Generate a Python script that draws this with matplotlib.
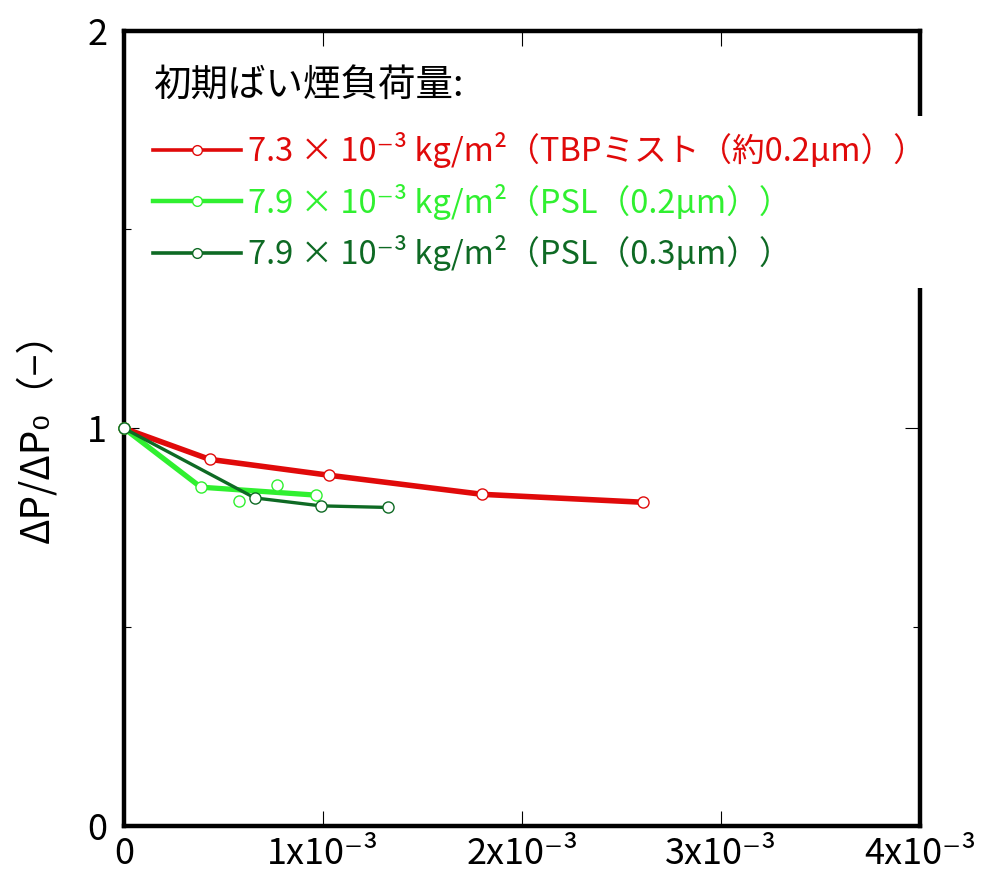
import matplotlib.pyplot as plt
import matplotlib as mpl
from matplotlib.lines import Line2D
from matplotlib.ticker import FixedLocator

mpl.rcParams['font.family'] = ['Noto Sans CJK JP', 'DejaVu Sans']
mpl.rcParams['axes.unicode_minus'] = False

# 初期ばい煙負荷量ごとの圧損比
x_tbp = [0, 0.43e-3, 1.03e-3, 1.80e-3, 2.61e-3]
y_tbp = [1.0, 0.922, 0.882, 0.834, 0.814]

x_psl02 = [0, 0.386e-3, 0.964e-3]
y_psl02 = [1.0, 0.852, 0.832]
x_psl02_pts = [0.577e-3, 0.768e-3]
y_psl02_pts = [0.817, 0.857]

x_psl03 = [0, 0.657e-3, 0.989e-3, 1.325e-3]
y_psl03 = [1.0, 0.825, 0.805, 0.801]

labels = ['7.3 × 10⁻³ kg/m²（TBPミスト（約0.2μm））',
          '7.9 × 10⁻³ kg/m²（PSL（0.2μm））',
          '7.9 × 10⁻³ kg/m²（PSL（0.3μm））']
colors = ['#e00a0a', '#30f030', '#0e6a24']

x_ticks = [0, 1e-3, 2e-3, 3e-3, 4e-3]
x_ticklabels = ['0', '1x10⁻³', '2x10⁻³', '3x10⁻³', '4x10⁻³']
y_ticks = [0, 1, 2]

fig = plt.figure(figsize=(9.84, 8.75), dpi=100)
ax = fig.add_axes([0.126, 0.056, 0.809, 0.909])

mk = dict(marker='o', markersize=8, markerfacecolor='white', markeredgewidth=1.0,
          clip_on=False, zorder=3)
ax.plot(x_tbp, y_tbp, color=colors[0], lw=4.0, markeredgecolor=colors[0], **mk)
ax.plot(x_psl02, y_psl02, color=colors[1], lw=3.8, markeredgecolor=colors[1], **mk)
ax.plot(x_psl02_pts, y_psl02_pts, ls='none', markeredgecolor=colors[1], **mk)
ax.plot(x_psl03, y_psl03, color=colors[2], lw=2.4, markeredgecolor=colors[2], **mk)

ax.set_xlim(0, 4e-3)
ax.set_ylim(0, 2)
ax.set_xticks(x_ticks)
ax.set_xticklabels(x_ticklabels, fontsize=26)
ax.set_yticks(y_ticks)
ax.set_yticklabels([str(v) for v in y_ticks], fontsize=26)
ax.yaxis.set_minor_locator(FixedLocator([0.5, 1.5]))
ax.tick_params(which='major', direction='in', length=11, width=0.8,
               top=True, right=True, pad=7)
ax.tick_params(which='minor', direction='in', length=5, width=0.8,
               top=True, right=True)
ax.tick_params(axis='y', pad=12)
for s in ax.spines.values():
    s.set_linewidth(3.2)

ax.set_ylabel('ΔP/ΔP₀（−）', fontsize=28, labelpad=22)

ax.text(0.036, 0.93, '初期ばい煙負荷量:', transform=ax.transAxes,
        fontsize=27, va='center', ha='left', color='black')

handles = [Line2D([], [], color=c, lw=2.6 if i != 1 else 3.2, marker='o',
                  markersize=7, markerfacecolor='white', markeredgecolor=c,
                  markeredgewidth=1.0) for i, c in enumerate(colors)]
leg = ax.legend(handles, labels, loc='upper left', bbox_to_anchor=(0.016, 0.893),
                fontsize=23.5, handlelength=2.7, handletextpad=0.2,
                labelspacing=0.48, borderaxespad=0, borderpad=0.5,
                frameon=True, fancybox=False, framealpha=1,
                facecolor='white', edgecolor='none')
for t, c in zip(leg.get_texts(), colors):
    t.set_color(c)

fig.savefig('out.png', dpi=100)
